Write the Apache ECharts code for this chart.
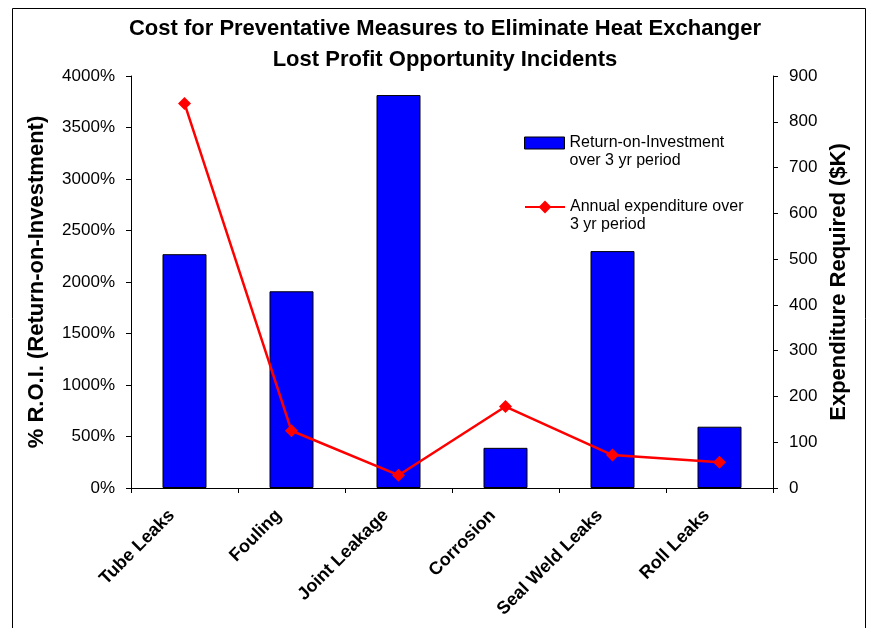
<!DOCTYPE html>
<html>
<head>
<meta charset="utf-8">
<script src="https://cdn.jsdelivr.net/npm/echarts@6/dist/echarts.min.js"></script>
<style>
html,body{margin:0;padding:0;background:#fff;}
#main{width:872px;height:628px;}
</style>
</head>
<body>
<div id="main"></div>
<script>
const categories = ['Tube Leaks', 'Fouling', 'Joint Leakage', 'Corrosion', 'Seal Weld Leaks', 'Roll Leaks'];
const roiValues = [2270, 1910, 3815, 390, 2300, 595];
const expenditureValues = [840, 125, 28, 178, 72, 56];
const leftTicks = [0, 500, 1000, 1500, 2000, 2500, 3000, 3500, 4000];
const rightTicks = [0, 100, 200, 300, 400, 500, 600, 700, 800, 900];
const roiName = 'Return-on-Investment\nover 3 yr period';
const expName = 'Annual expenditure over\n3 yr period';

const chart = echarts.init(document.getElementById('main'));
const font = 'Liberation Sans, Arial, sans-serif';
const legendText = { fontFamily: font, fontSize: 16, color: '#000', lineHeight: 18 };
chart.setOption({
  backgroundColor: '#fff',
  animation: false,
  textStyle: { fontFamily: font },
  title: {
    text: 'Cost for Preventative Measures to Eliminate Heat Exchanger\nLost Profit Opportunity Incidents',
    left: 440, textAlign: 'center', top: 8,
    textStyle: { fontFamily: font, fontSize: 22, fontWeight: 'bold', color: '#000', lineHeight: 31 }
  },
  graphic: [{
    type: 'rect', shape: { x: 12.5, y: 8.5, width: 853, height: 640 },
    style: { fill: 'none', stroke: '#000', lineWidth: 1 }, silent: true
  }],
  legend: [{
    orient: 'vertical', left: 519, top: 111,
    itemWidth: 40, itemHeight: 12,
    formatter: n => ' \n' + n,
    textStyle: legendText,
    data: [{ name: roiName, icon: 'rect', itemStyle: { borderColor: '#000', borderWidth: 1 } }]
  }, {
    orient: 'vertical', left: 519, top: 175,
    itemWidth: 40, itemHeight: 16,
    formatter: n => ' \n' + n,
    textStyle: legendText,
    data: [{ name: expName }]
  }],
  grid: { left: 131, right: 99, top: 76, bottom: 140 },
  xAxis: {
    type: 'category', data: categories,
    axisLine: { lineStyle: { color: '#000', width: 1 } },
    axisTick: { show: true, length: 5, lineStyle: { color: '#000' } },
    axisLabel: { rotate: 45, interval: 0, margin: 12, padding: [0, 18, 0, 0], fontFamily: font, fontSize: 18, fontWeight: 'bold', color: '#000' }
  },
  yAxis: [{
    type: 'value', min: 0, max: 4000, interval: 500,
    name: '% R.O.I. (Return-on-Investment)', nameLocation: 'middle', nameGap: 83,
    nameTextStyle: { fontFamily: font, fontSize: 22, fontWeight: 'bold', color: '#000' },
    axisLine: { show: true, lineStyle: { color: '#000' } },
    axisTick: { show: true, length: 5, lineStyle: { color: '#000' } },
    splitLine: { show: false },
    axisLabel: { formatter: v => leftTicks.includes(v) ? v + '%' : '', fontFamily: font, fontSize: 17, color: '#000', margin: 16 }
  }, {
    type: 'value', min: 0, max: 900, interval: 100, position: 'right',
    name: 'Expenditure Required ($K)', nameLocation: 'middle', nameGap: 55,
    nameRotate: 90,
    nameTextStyle: { fontFamily: font, fontSize: 22, fontWeight: 'bold', color: '#000' },
    axisLine: { show: true, lineStyle: { color: '#000' } },
    axisTick: { show: true, length: 5, lineStyle: { color: '#000' } },
    splitLine: { show: false },
    axisLabel: { formatter: v => rightTicks.includes(v) ? String(v) : '', fontFamily: font, fontSize: 17, color: '#000', margin: 16 }
  }],
  series: [{
    name: roiName, type: 'bar', yAxisIndex: 0,
    data: roiValues, barWidth: 44,
    itemStyle: { color: '#0000FF', borderColor: '#000', borderWidth: 1 }
  }, {
    name: expName, type: 'line', yAxisIndex: 1,
    data: expenditureValues,
    symbol: 'diamond', symbolSize: 13,
    lineStyle: { color: '#FF0000', width: 2.5 },
    itemStyle: { color: '#FF0000' }
  }]
});
</script>
</body>
</html>
